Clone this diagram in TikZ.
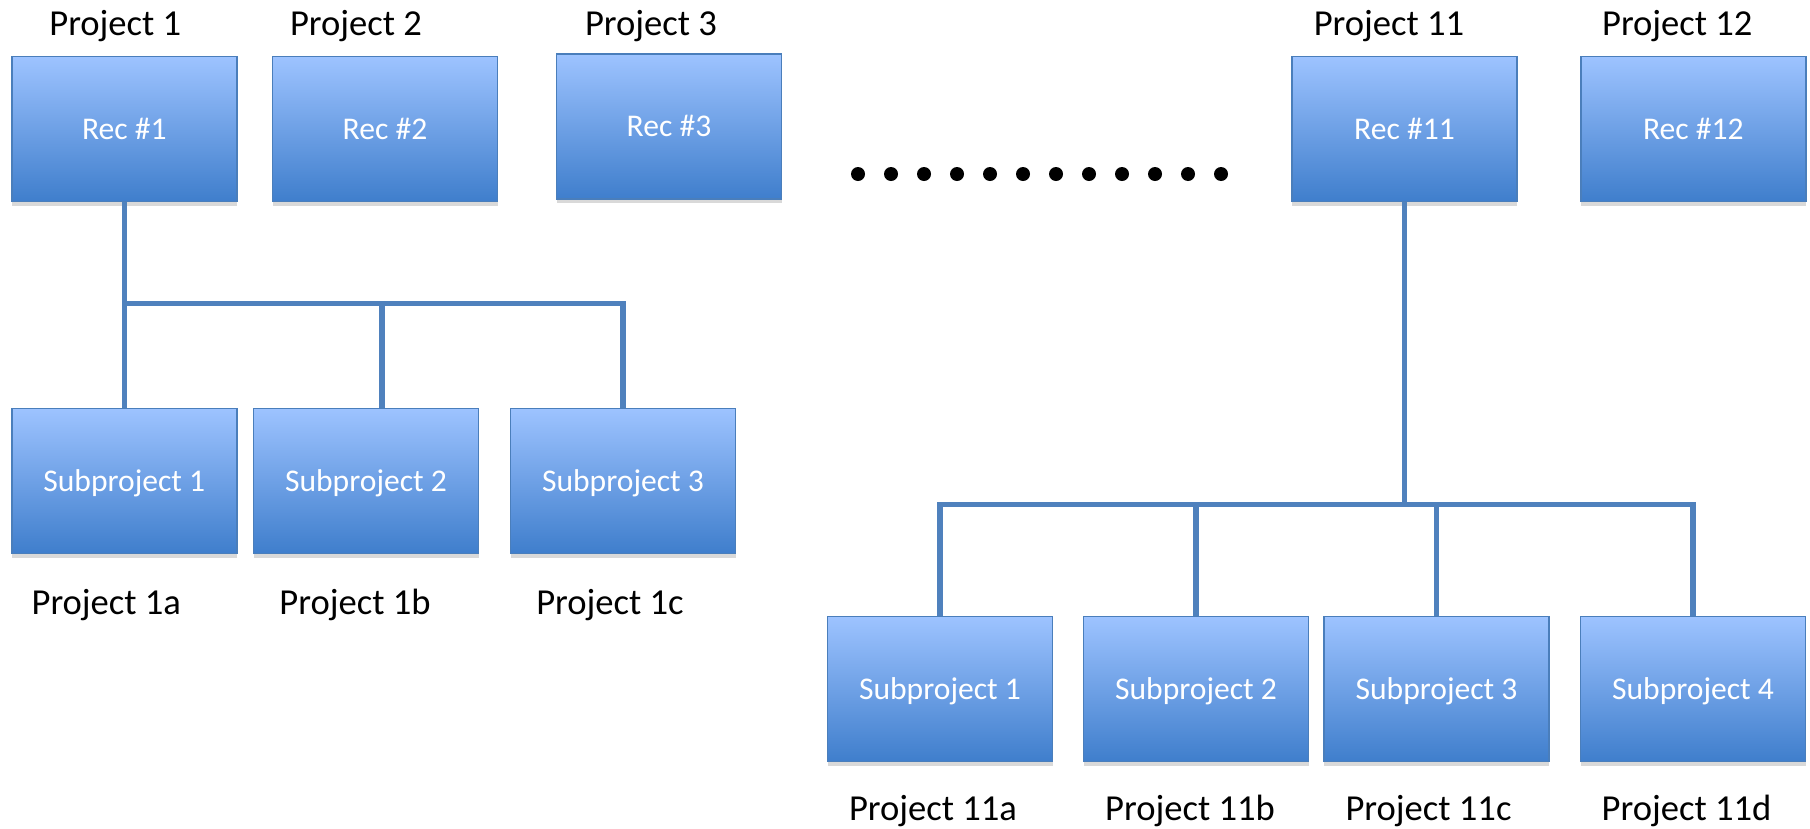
\documentclass[tikz,border=0pt]{standalone}
\usepackage{fontspec}
\setmainfont{Carlito}
\usepackage{tikz}
\usetikzlibrary{positioning,shadows}
\definecolor{boxtop}{RGB}{157,195,255}
\definecolor{boxbot}{RGB}{63,126,204}
\definecolor{boxline}{RGB}{74,126,187}
\definecolor{busline}{RGB}{79,129,189}
\tikzstyle{block} = [rectangle, draw=boxline, line width=1.5pt, top color=boxtop, bottom color=boxbot,
minimum width=225pt, minimum height=145pt, inner sep=0pt, text=white, font=\fontsize{31.6}{38}\selectfont,
text height=20pt, text depth=0pt, drop shadow={shadow xshift=0pt, shadow yshift=-4pt, opacity=0.3}]
\tikzstyle{lbl} = [font=\fontsize{36.6}{44}\selectfont, inner sep=0pt, anchor=base]
\tikzstyle{line} = [draw=busline, line width=5.5pt]
\begin{document}
\begin{tikzpicture}[x=1pt, y=-1pt]
  \useasboundingbox (0,0) rectangle (1810,828);

          % Place nodes
    \node [block] (r1) at (124.3,129.2) {Rec \#1};
    \node [block] (r2) at (385,129.2) {Rec \#2};
    \node [block] (r3) at (669,126.7) {Rec \#3};
    \node [block] (r11) at (1404.5,129.2) {Rec \#11};
    \node [block] (r12) at (1693.3,129.2) {Rec \#12};
    \node [block] (s1a) at (124.3,481) {Subproject 1};
    \node [block] (s1b) at (366,481) {Subproject 2};
    \node [block] (s1c) at (623,481) {Subproject 3};
    \node [block] (s11a) at (940,689.2) {Subproject 1};
    \node [block] (s11b) at (1196,689.2) {Subproject 2};
    \node [block] (s11c) at (1436.5,689.2) {Subproject 3};
    \node [block] (s11d) at (1693,689.2) {Subproject 4};
    % labels
    \node [above=20pt of r1, lbl, xshift=-9pt] (p1) {Project 1};
    \node [above=20pt of r2, lbl, xshift=-29pt] (p2) {Project 2};
    \node [above=17.5pt of r3, lbl, xshift=-18pt] (p3) {Project 3};
    \node [above=20pt of r11, lbl, xshift=-15.5pt] (p11) {Project 11};
    \node [above=20pt of r12, lbl, xshift=-16pt] (p12) {Project 12};
    \node [below=60pt of s1a, lbl, xshift=-18pt] (p1a) {Project 1a};
    \node [below=60pt of s1b, lbl, xshift=-11pt] (p1b) {Project 1b};
    \node [below=60pt of s1c, lbl, xshift=-13pt] (p1c) {Project 1c};
    \node [below=58pt of s11a, lbl, xshift=-7pt] (p11a) {Project 11a};
    \node [below=58pt of s11b, lbl, xshift=-6pt] (p11b) {Project 11b};
    \node [below=58pt of s11c, lbl, xshift=-8pt] (p11c) {Project 11c};
    \node [below=58pt of s11d, lbl, xshift=-6.5pt] (p11d) {Project 11d};
    % dots
    \foreach \i in {0,...,11}
      \fill (858+33*\i,174) circle (7pt);
    % edges
    \coordinate (bus1) at (124.3,303.5);
    \coordinate (bus11) at (1404.5,504.5);
    \coordinate (s1bdrop) at ([xshift=16pt]s1b.north);
         \path [line] (r1.south) -- (s1a.north);
         \path [line] (bus1) -| (s1c.north);
         \path [line] (s1bdrop |- bus1) -- (s1bdrop);
         \path [line] (r11.south) -- (bus11);
         \path [line] (s11a.north) |- (bus11) -| (s11d.north);
         \path [line] (bus11 -| s11b.north) -- (s11b.north);
         \path [line] (bus11 -| s11c.north) -- (s11c.north);
  \end{tikzpicture}
\end{document}
